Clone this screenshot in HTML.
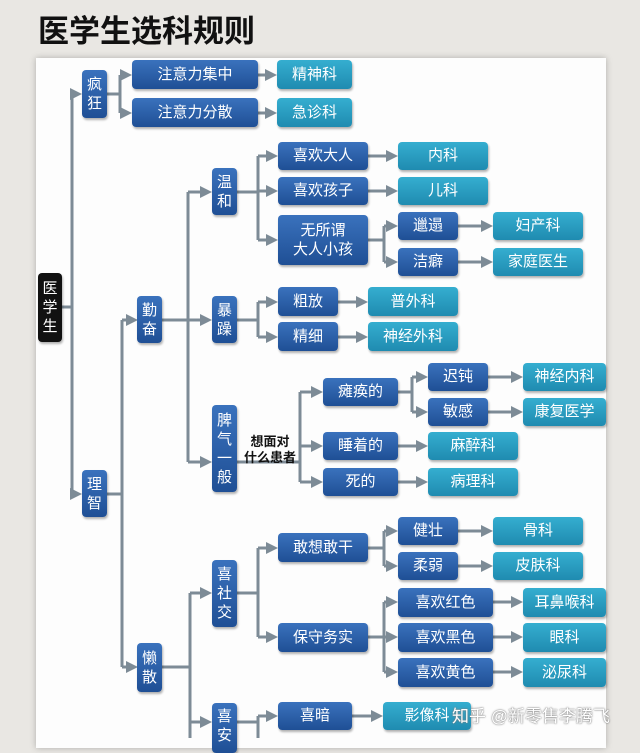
<!DOCTYPE html>
<html><head><meta charset="utf-8"><style>
body{margin:0;width:640px;height:738px;overflow:hidden;background:#e9e7e3;font-family:"Liberation Sans","Noto Sans CJK SC",sans-serif;position:relative}
.t{position:absolute;left:38px;top:6px;font-size:31px;font-weight:bold;color:#111}
.p{position:absolute;left:36px;top:58px;width:570px;height:690px;background:#fdfdfd;box-shadow:0 0 6px rgba(0,0,0,.25)}
.n{position:absolute;box-sizing:border-box;border-radius:4px;color:#fff;font-size:15px;display:flex;align-items:center;justify-content:center;text-align:center;line-height:18px;box-shadow:1px 2px 2px rgba(0,0,0,.3)}
.b{background:linear-gradient(#3a72bd,#1f4f95)}
.c{background:linear-gradient(#35aed0,#1f8bb0)}
.v{flex-direction:column;font-size:15px;line-height:19px}
.k{background:#111}
svg{position:absolute;left:0;top:0}
.lab{position:absolute;left:240px;top:434px;font-size:13px;font-weight:bold;color:#111;line-height:16px;text-align:center;width:60px}
.wm{position:absolute;left:452px;top:702px;font-size:17px;color:#fff;text-shadow:0 0 2px #888,0 0 1px #666}
</style></head><body>
<div class="t">医学生选科规则</div>
<div class="p"></div>
<svg width="640" height="738">
<defs><marker id="a" markerWidth="4" markerHeight="4" refX="3" refY="2" orient="auto"><path d="M0,0L4,2L0,4z" fill="#7d8b96"/></marker></defs>
<g stroke="#7d8b96" stroke-width="3" fill="none">
<path d="M62 307H72M72 94V494M120 75V113M122 320V667M188 192V462M258 156V240M384 226V262M258 302V337M300 392V482M412 377V412M190 593V738M258 548V637M384 531V566M384 602V672M258 716V738"/>
<path d="M107 94H120M107 494H122M162 320H188M237 192H258M368 240H384M237 320H258M237 462H300M398 392H412M162 667H190M237 593H258M368 548H384M368 637H384M237 722H258"/>
</g>
<g stroke="#7d8b96" stroke-width="3" fill="none" marker-end="url(#a)">
<path d="M72 94H79"/><path d="M72 494H79"/>
<path d="M120 75H129"/><path d="M120 113H129"/><path d="M258 75H274"/><path d="M258 113H274"/>
<path d="M122 320H135"/><path d="M122 667H135"/>
<path d="M188 192H209"/><path d="M188 320H209"/><path d="M188 462H209"/>
<path d="M258 156H275"/><path d="M258 191H275"/><path d="M258 240H275"/><path d="M368 156H395"/><path d="M368 191H395"/>
<path d="M384 226H395"/><path d="M384 262H395"/><path d="M458 226H490"/><path d="M458 262H490"/>
<path d="M258 302H275"/><path d="M258 337H275"/><path d="M338 302H365"/><path d="M338 337H365"/>
<path d="M300 392H320"/><path d="M300 446H320"/><path d="M300 482H320"/><path d="M398 446H425"/><path d="M398 482H425"/>
<path d="M412 377H425"/><path d="M412 412H425"/><path d="M488 377H520"/><path d="M488 412H520"/>
<path d="M190 593H209"/><path d="M190 722H209"/>
<path d="M258 548H275"/><path d="M258 637H275"/>
<path d="M384 531H395"/><path d="M384 566H395"/><path d="M458 531H490"/><path d="M458 566H490"/>
<path d="M384 602H395"/><path d="M384 637H395"/><path d="M384 672H395"/><path d="M493 602H520"/><path d="M493 637H520"/><path d="M493 672H520"/>
<path d="M258 716H275"/><path d="M352 716H380"/>
</g></svg>
<div class="n k v" style="left:38px;top:273px;width:24px;height:69px">医<br>学<br>生</div>
<div class="n b v" style="left:82px;top:70px;width:25px;height:48px">疯<br>狂</div>
<div class="n b" style="left:132px;top:60px;width:126px;height:29px">注意力集中</div>
<div class="n c" style="left:277px;top:60px;width:75px;height:29px">精神科</div>
<div class="n b" style="left:132px;top:98px;width:126px;height:29px">注意力分散</div>
<div class="n c" style="left:277px;top:98px;width:75px;height:29px">急诊科</div>
<div class="n b v" style="left:212px;top:168px;width:25px;height:47px">温<br>和</div>
<div class="n b" style="left:278px;top:142px;width:90px;height:28px">喜欢大人</div>
<div class="n c" style="left:398px;top:142px;width:90px;height:28px">内科</div>
<div class="n b" style="left:278px;top:177px;width:90px;height:28px">喜欢孩子</div>
<div class="n c" style="left:398px;top:177px;width:90px;height:28px">儿科</div>
<div class="n b v" style="left:278px;top:215px;width:90px;height:50px">无所谓<br>大人小孩</div>
<div class="n b" style="left:398px;top:212px;width:60px;height:28px">邋遢</div>
<div class="n c" style="left:493px;top:212px;width:90px;height:28px">妇产科</div>
<div class="n b" style="left:398px;top:248px;width:60px;height:28px">洁癖</div>
<div class="n c" style="left:493px;top:248px;width:90px;height:28px">家庭医生</div>
<div class="n b v" style="left:137px;top:296px;width:25px;height:47px">勤<br>奋</div>
<div class="n b v" style="left:212px;top:296px;width:25px;height:47px">暴<br>躁</div>
<div class="n b" style="left:278px;top:287px;width:60px;height:29px">粗放</div>
<div class="n c" style="left:368px;top:287px;width:90px;height:29px">普外科</div>
<div class="n b" style="left:278px;top:322px;width:60px;height:29px">精细</div>
<div class="n c" style="left:368px;top:322px;width:90px;height:29px">神经外科</div>
<div class="n b v" style="left:212px;top:405px;width:25px;height:87px">脾<br>气<br>一<br>般</div>
<div class="lab">想面对<br>什么患者</div>
<div class="n b" style="left:323px;top:378px;width:75px;height:28px">瘫痪的</div>
<div class="n b" style="left:428px;top:363px;width:60px;height:28px">迟钝</div>
<div class="n c" style="left:523px;top:363px;width:83px;height:28px">神经内科</div>
<div class="n b" style="left:428px;top:398px;width:60px;height:28px">敏感</div>
<div class="n c" style="left:523px;top:398px;width:83px;height:28px">康复医学</div>
<div class="n b" style="left:323px;top:432px;width:75px;height:28px">睡着的</div>
<div class="n c" style="left:428px;top:432px;width:90px;height:28px">麻醉科</div>
<div class="n b" style="left:323px;top:468px;width:75px;height:28px">死的</div>
<div class="n c" style="left:428px;top:468px;width:90px;height:28px">病理科</div>
<div class="n b v" style="left:82px;top:470px;width:25px;height:47px">理<br>智</div>
<div class="n b v" style="left:212px;top:560px;width:25px;height:67px">喜<br>社<br>交</div>
<div class="n b" style="left:278px;top:533px;width:90px;height:29px">敢想敢干</div>
<div class="n b" style="left:398px;top:517px;width:60px;height:28px">健壮</div>
<div class="n c" style="left:493px;top:517px;width:90px;height:28px">骨科</div>
<div class="n b" style="left:398px;top:552px;width:60px;height:28px">柔弱</div>
<div class="n c" style="left:493px;top:552px;width:90px;height:28px">皮肤科</div>
<div class="n b" style="left:278px;top:623px;width:90px;height:29px">保守务实</div>
<div class="n b" style="left:398px;top:588px;width:95px;height:29px">喜欢红色</div>
<div class="n c" style="left:523px;top:588px;width:83px;height:29px">耳鼻喉科</div>
<div class="n b" style="left:398px;top:623px;width:95px;height:29px">喜欢黑色</div>
<div class="n c" style="left:523px;top:623px;width:83px;height:29px">眼科</div>
<div class="n b" style="left:398px;top:658px;width:95px;height:29px">喜欢黄色</div>
<div class="n c" style="left:523px;top:658px;width:83px;height:29px">泌尿科</div>
<div class="n b v" style="left:137px;top:643px;width:25px;height:49px">懒<br>散</div>
<div class="n b v" style="left:212px;top:703px;width:25px;height:50px;justify-content:flex-start;padding-top:4px">喜<br>安</div>
<div class="n b" style="left:278px;top:702px;width:74px;height:28px">喜暗</div>
<div class="n c" style="left:383px;top:702px;width:88px;height:28px">影像科</div>
<div class="wm">知乎 @新零售李腾飞</div>
</body></html>
